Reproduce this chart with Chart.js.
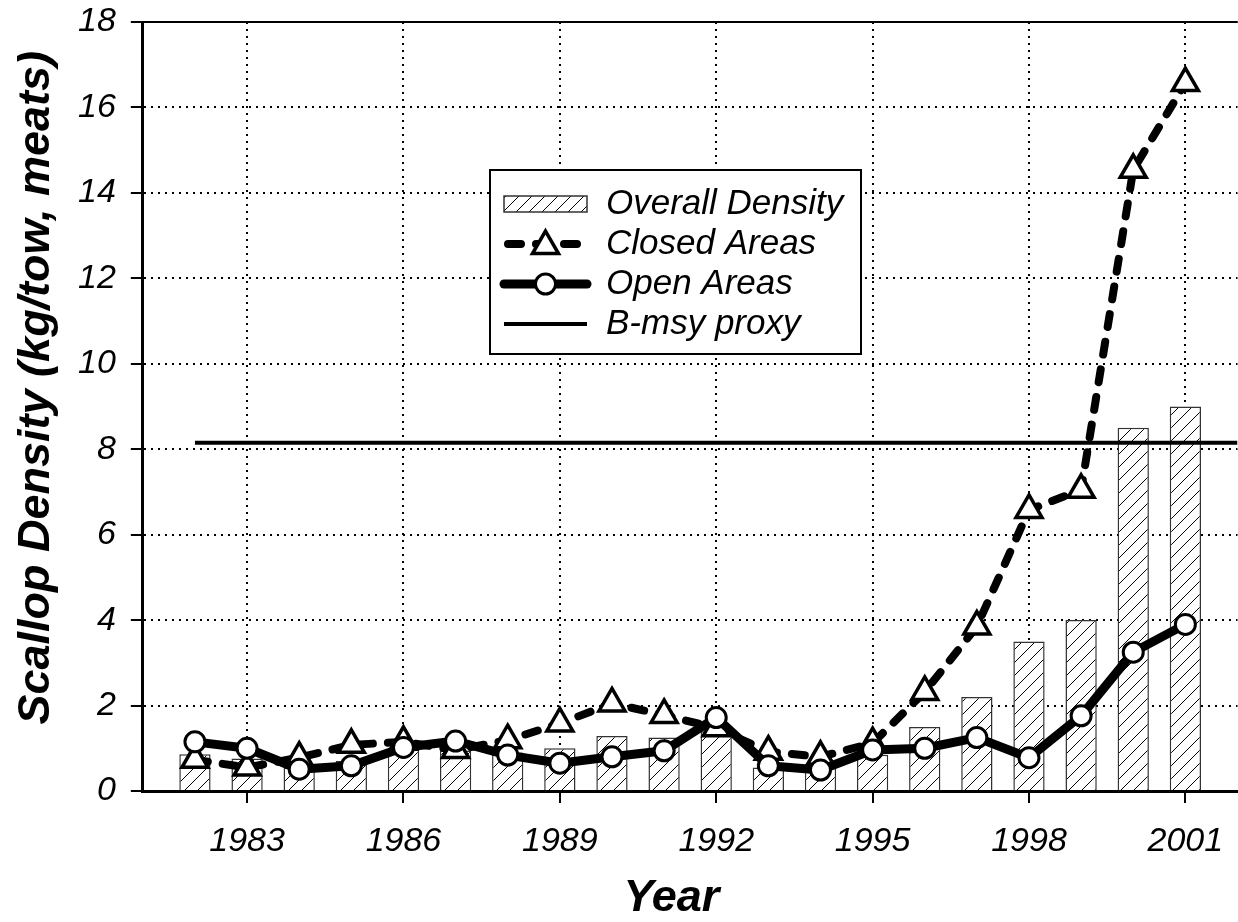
<!DOCTYPE html>
<html>
<head>
<meta charset="utf-8">
<title>Scallop Density</title>
<script src="https://cdn.jsdelivr.net/npm/chart.js@4.4.0/dist/chart.umd.min.js"></script>
<style>
    html, body { margin: 0; padding: 0; background: #fff; overflow: hidden; }
    #wrap { width: 1256px; height: 922px; position: relative; }
    #density { display: block; }
</style>
</head>
<body>
<div id="wrap"><canvas id="density"></canvas></div>
<script>
'use strict';

var years = [1982, 1983, 1984, 1985, 1986, 1987, 1988, 1989, 1990, 1991,
             1992, 1993, 1994, 1995, 1996, 1997, 1998, 1999, 2000, 2001];
var overallDensity = [0.86, 0.76, 0.55, 0.7, 1.0, 0.95, 0.9, 1.0, 1.29, 1.25,
                      1.4, 0.55, 0.55, 0.85, 1.5, 2.2, 3.5, 4.0, 8.5, 9.0];
var closedAreas = [0.73, 0.55, 0.78, 1.08, 1.15, 0.96, 1.19, 1.58, 2.05, 1.78,
                   1.47, 0.92, 0.8, 1.12, 2.32, 3.85, 6.58, 7.05, 14.54, 16.57];
var openAreas = [1.15, 1.0, 0.51, 0.59, 1.02, 1.17, 0.84, 0.65, 0.8, 0.94,
                 1.72, 0.59, 0.49, 0.96, 1.0, 1.25, 0.78, 1.76, 3.25, 3.9];
var bmsyYears = [1982, 2002];
var bmsyProxy = [8.15, 8.15];
var xTickYears = [1983, 1986, 1989, 1992, 1995, 1998, 2001];

var fontFamily = "'Liberation Sans', Arial, sans-serif";

function toPoints(xs, ys) {
    var pts = [];
    for (var i = 0; i < xs.length; i++) {
        pts.push({x: xs[i], y: ys[i]});
    }
    return pts;
}

// diagonal hatch for the bars
function makeHatch() {
    var c = document.createElement('canvas');
    var s = 13;
    c.width = s;
    c.height = s;
    var p = c.getContext('2d');
    p.fillStyle = '#fff';
    p.fillRect(0, 0, s, s);
    p.strokeStyle = '#000';
    p.lineWidth = 1;
    p.beginPath();
    p.moveTo(0, s); p.lineTo(s, 0);
    p.moveTo(-3, 3); p.lineTo(3, -3);
    p.moveTo(s - 3, s + 3); p.lineTo(s + 3, s - 3);
    p.stroke();
    return p.createPattern(c, 'repeat');
}
var hatch = makeHatch();

function drawTriangle(ctx, x, y, r) {
    ctx.beginPath();
    for (var k = 0; k < 3; k++) {
        var a = k * 2 * Math.PI / 3;
        var px = x + Math.sin(a) * r, py = y - Math.cos(a) * r;
        if (k === 0) ctx.moveTo(px, py); else ctx.lineTo(px, py);
    }
    ctx.closePath();
    ctx.fill();
    ctx.stroke();
}

// top frame line of the plot
var topFrame = {
    id: 'topFrame',
    afterDatasetsDraw: function (chart) {
        var ctx = chart.ctx, a = chart.chartArea;
        ctx.save();
        ctx.strokeStyle = '#000';
        ctx.lineWidth = 2;
        ctx.beginPath();
        ctx.moveTo(a.left, a.top);
        ctx.lineTo(a.right, a.top);
        ctx.stroke();
        ctx.restore();
    }
};

// legend box drawn inside the plot
var boxLegend = {
    id: 'boxLegend',
    afterDraw: function (chart) {
        var ctx = chart.ctx;
        var left = 490, top = 170, w = 371, h = 184;
        var rowY = [204, 244, 284, 324];
        var x0 = 504, x1 = 587, xm = (x0 + x1) / 2;
        ctx.save();
        ctx.fillStyle = '#fff';
        ctx.fillRect(left, top, w, h);
        ctx.lineWidth = 2;
        ctx.strokeStyle = '#000';
        ctx.strokeRect(left, top, w, h);

        chart.data.datasets.forEach(function (ds, i) {
            var y = rowY[i];
            ctx.save();
            if (ds.type === 'bar') {
                ctx.fillStyle = hatch;
                ctx.fillRect(x0, y - 8, x1 - x0, 16);
                ctx.lineWidth = 1.5;
                ctx.strokeStyle = '#333';
                ctx.strokeRect(x0, y - 8, x1 - x0, 16);
            } else {
                ctx.strokeStyle = '#000';
                ctx.lineWidth = ds.borderWidth;
                ctx.lineCap = ds.borderCapStyle || 'butt';
                ctx.setLineDash(ds.borderDash || []);
                ctx.beginPath();
                ctx.moveTo(x0 + (ds.borderDash ? 4 : 0), y);
                ctx.lineTo(x1, y);
                ctx.stroke();
                ctx.setLineDash([]);
                ctx.fillStyle = '#fff';
                ctx.lineWidth = ds.pointBorderWidth || 0;
                if (ds.pointStyle === 'triangle') {
                    drawTriangle(ctx, xm, y + 2, ds.pointRadius);
                } else if (ds.pointRadius) {
                    ctx.beginPath();
                    ctx.arc(xm, y, ds.pointRadius, 0, 2 * Math.PI);
                    ctx.fill();
                    ctx.stroke();
                }
            }
            ctx.restore();
            ctx.fillStyle = '#000';
            ctx.font = 'italic 35px ' + fontFamily;
            ctx.textBaseline = 'middle';
            ctx.textAlign = 'left';
            ctx.fillText(ds.label, 606, y);
        });
        ctx.restore();
    }
};

var tickFont = {family: fontFamily, size: 34, style: 'italic', lineHeight: 1.0};
var titleFont = {family: fontFamily, size: 45, style: 'italic', weight: 'bold', lineHeight: 0.8};

var density = document.getElementById('density');
var density_chart = new Chart(density, {
    type: 'bar',
    data: {
        datasets: [
            {
                type: 'bar',
                label: "Overall Density",
                data: toPoints(years, overallDensity),
                backgroundColor: hatch,
                borderColor: '#333',
                borderWidth: 1.5,
                barPercentage: 0.75,
                categoryPercentage: 0.8,
                order: 4
            },
            {
                type: 'line',
                label: "Closed Areas",
                data: toPoints(years, closedAreas),
                fill: false,
                tension: 0,
                borderColor: '#000',
                borderWidth: 8,
                borderDash: [13, 15],
                borderCapStyle: 'round',
                borderJoinStyle: 'round',
                pointStyle: 'triangle',
                pointRadius: 15,
                pointBorderWidth: 3.5,
                pointBorderColor: '#000',
                pointBackgroundColor: '#fff',
                order: 2
            },
            {
                type: 'line',
                label: "Open Areas",
                data: toPoints(years, openAreas),
                fill: false,
                tension: 0,
                borderColor: '#000',
                borderWidth: 9,
                borderCapStyle: 'round',
                borderJoinStyle: 'round',
                pointStyle: 'circle',
                pointRadius: 10,
                pointBorderWidth: 3,
                pointBorderColor: '#000',
                pointBackgroundColor: '#fff',
                order: 1
            },
            {
                type: 'line',
                label: "B-msy proxy",
                data: toPoints(bmsyYears, bmsyProxy),
                fill: false,
                borderColor: '#000',
                borderWidth: 4,
                pointRadius: 0,
                order: 3
            }
        ]
    },
    options: {
        responsive: true,
        maintainAspectRatio: false,
        animation: false,
        layout: {padding: {left: 0, right: 0, top: 22, bottom: 5}},
        plugins: {
            legend: {display: false},
            tooltip: {enabled: false}
        },
        scales: {
            x: {
                type: 'linear',
                min: 1981,
                max: 2002,
                offset: false,
                afterBuildTicks: function (scale) {
                    scale.ticks = xTickYears.map(function (v) { return {value: v}; });
                },
                afterFit: function (scale) {
                    scale.paddingLeft = 0;
                    scale.paddingRight = 0;
                },
                ticks: {
                    color: '#000',
                    font: tickFont,
                    padding: 22,
                    maxRotation: 0,
                    callback: function (v) { return String(v); }
                },
                grid: {
                    offset: false,
                    color: '#000',
                    lineWidth: 2,
                    tickLength: 12,
                    tickWidth: 2,
                    tickColor: '#000',
                    tickBorderDash: []
                },
                border: {display: true, color: '#000', width: 3, dash: [2, 5]},
                title: {
                    display: true,
                    text: 'Year   ',
                    color: '#000',
                    font: titleFont,
                    padding: {top: 0, bottom: 0}
                }
            },
            y: {
                min: 0,
                max: 18,
                afterFit: function (scale) {
                    scale.paddingTop = 0;
                    scale.paddingBottom = 0;
                },
                ticks: {
                    stepSize: 2,
                    color: '#000',
                    font: tickFont,
                    padding: 15
                },
                grid: {
                    color: '#000',
                    lineWidth: 2,
                    tickLength: 12,
                    tickWidth: 2,
                    tickColor: '#000',
                    tickBorderDash: []
                },
                border: {display: true, color: '#000', width: 3, dash: [2, 5]},
                title: {
                    display: true,
                    text: '   Scallop Density (kg/tow, meats)',
                    color: '#000',
                    font: {family: fontFamily, size: 45, style: 'italic', weight: 'bold', lineHeight: 1.0},
                    padding: {top: 14, bottom: 4}
                }
            }
        }
    },
    plugins: [topFrame, boxLegend]
});
</script>
</body>
</html>
